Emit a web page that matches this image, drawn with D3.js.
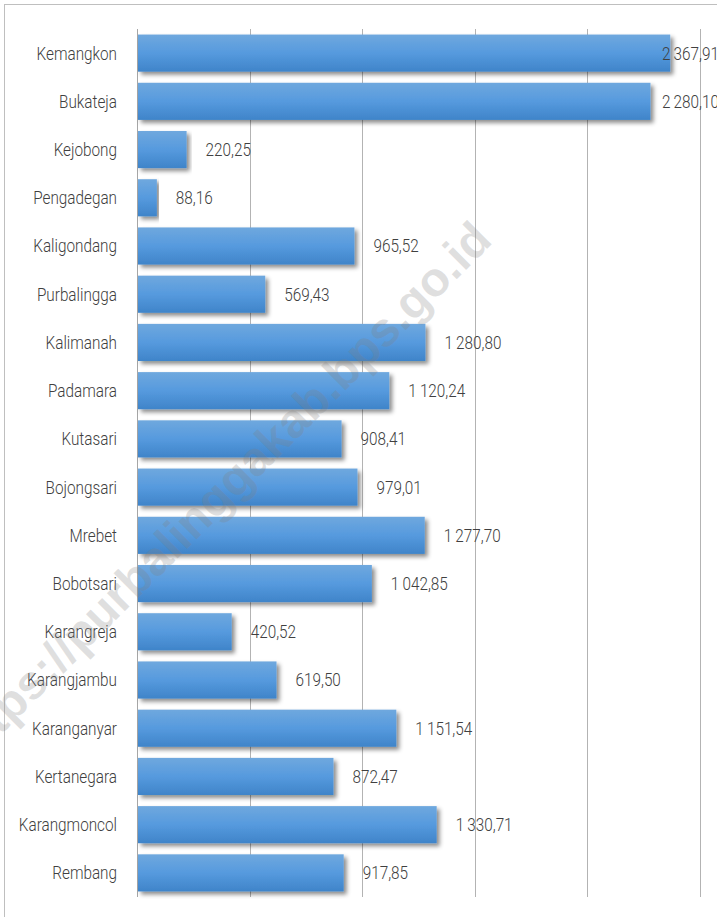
<!DOCTYPE html>
<html>
<head>
<meta charset="utf-8">
<script src="https://cdn.jsdelivr.net/npm/d3@7"></script>
<style>
  body { margin: 0; background: #fff; }
  svg { display: block; }
  .lbl { font-family: Roboto, "Noto Sans", sans-serif; font-weight: 300; fill: #404040; }
</style>
</head>
<body>
<svg id="chart"></svg>
<script>
// kecamatan, top to bottom
var districts = ['Kemangkon', 'Bukateja', 'Kejobong', 'Pengadegan', 'Kaligondang', 'Purbalingga',
	'Kalimanah', 'Padamara', 'Kutasari', 'Bojongsari', 'Mrebet', 'Bobotsari', 'Karangreja',
	'Karangjambu', 'Karanganyar', 'Kertanegara', 'Karangmoncol', 'Rembang'];
var values = [2367.91, 2280.10, 220.25, 88.16, 965.52, 569.43, 1280.80, 1120.24, 908.41, 979.01,
	1277.70, 1042.85, 420.52, 619.50, 1151.54, 872.47, 1330.71, 917.85];
var gridTicks = [0, 500, 1000, 1500, 2000, 2500];

var width = 717, height = 917;
var plotLeft = 137, plotRight = 700, plotTop = 29, plotBottom = 897;
var squeeze = 0.85; // the original font is a narrow one

var svg = d3.select('#chart')
	.attr('width', width)
	.attr('height', height);

var defs = svg.append('defs');
var grad = defs.append('linearGradient')
	.attr('id', 'barFill')
	.attr('x1', 0).attr('y1', 0).attr('x2', 0).attr('y2', 1);
grad.append('stop').attr('offset', '0%').attr('stop-color', '#6fa8de');
grad.append('stop').attr('offset', '50%').attr('stop-color', '#569ade');
grad.append('stop').attr('offset', '100%').attr('stop-color', '#3f84c9');

var shadow = defs.append('filter')
	.attr('id', 'shadow')
	.attr('x', '-5%').attr('y', '-20%').attr('width', '115%').attr('height', '160%');
shadow.append('feDropShadow')
	.attr('dx', 3).attr('dy', 3)
	.attr('stdDeviation', 2)
	.attr('flood-color', '#000')
	.attr('flood-opacity', 0.45);

// frame
svg.append('line').attr('x1', 4).attr('x2', width).attr('y1', 4.5).attr('y2', 4.5)
	.attr('stroke', '#bfbfbf');
svg.append('line').attr('x1', 4.5).attr('x2', 4.5).attr('y1', 4).attr('y2', height)
	.attr('stroke', '#bfbfbf');

var x = d3.scaleLinear().domain([0, 2500]).range([plotLeft, plotRight]);
var y = d3.scaleBand().domain(districts).range([plotTop, plotBottom]).paddingInner(0.23).paddingOuter(0.115);

svg.append('g')
	.selectAll('line')
	.data(gridTicks)
	.join('line')
	.attr('x1', function (d) { return Math.round(x(d)) + 0.5; })
	.attr('x2', function (d) { return Math.round(x(d)) + 0.5; })
	.attr('y1', plotTop)
	.attr('y2', plotBottom)
	.attr('stroke', function (d) { return d === 0 ? '#a6a6a6' : '#b3b3b3'; });

var rows = districts.map(function (name, i) { return { name: name, value: values[i] }; });

svg.append('g')
	.selectAll('rect')
	.data(rows)
	.join('rect')
	.attr('x', x(0) + 1)
	.attr('y', function (d) { return y(d.name); })
	.attr('width', function (d) { return x(d.value) - x(0) - 1; })
	.attr('height', y.bandwidth())
	.attr('fill', 'url(#barFill)')
	.attr('filter', 'url(#shadow)');

// category labels
svg.append('g')
	.selectAll('text')
	.data(rows)
	.join('text')
	.attr('class', 'lbl')
	.attr('transform', function (d) {
		return 'translate(' + (plotLeft - 20) + ',' + (y(d.name) + y.bandwidth() / 2) + ') scale(' + squeeze + ',1)';
	})
	.attr('dy', '0.36em')
	.attr('text-anchor', 'end')
	.style('font-size', '18px')
	.text(function (d) { return d.name; });

var locale = d3.formatLocale({ decimal: ',', thousands: '\u2009', grouping: [3], currency: ['', ''] });
var fmt = locale.format(',.2f');

svg.append('g')
	.selectAll('text')
	.data(rows)
	.join('text')
	.attr('class', 'lbl')
	.attr('transform', function (d) {
		var lx = Math.min(x(d.value) + 19, 662);
		return 'translate(' + lx + ',' + (y(d.name) + y.bandwidth() / 2) + ') scale(' + squeeze + ',1)';
	})
	.attr('dy', '0.36em')
	.style('font-size', '18px')
	.text(function (d) { return fmt(d.value); });

// watermark
svg.append('text')
	.attr('transform', 'translate(494,242) rotate(-45)')
	.attr('text-anchor', 'end')
	.style('font-family', '"Liberation Sans", Arial, sans-serif')
	.style('font-weight', 'bold')
	.style('font-size', '48px')
	.attr('fill', '#808080')
	.attr('fill-opacity', 0.25)
	.text('https://purbalinggakab.bps.go.id');
</script>
</body>
</html>
